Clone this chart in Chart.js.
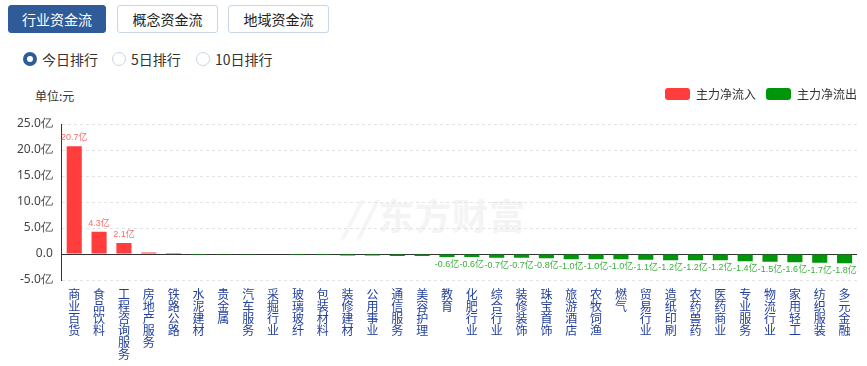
<!DOCTYPE html>
<html>
<head>
<meta charset="utf-8">
<script src="https://cdn.jsdelivr.net/npm/chart.js@4/dist/chart.umd.min.js"></script>
<style>
  body { margin: 0; width: 867px; height: 366px; overflow: hidden; position: relative; background: #fff;
         font-family: "Noto Sans CJK SC", "Noto Sans", sans-serif; color: #333; }
  .tabs { position: absolute; left: 8px; top: 5px; }
  .tab { position: absolute; top: 0; height: 28px; box-sizing: border-box; border: 1px solid #c9d6e6;
         border-radius: 3px; font-size: 14px; line-height: 26px; text-align: center; color: #222; background: #fff; }
  .tab.on { background: #2f5b98; border-color: #2f5b98; color: #fff; }
  .radios { position: absolute; top: 49px; left: 0; font-size: 14px; }
  .radio { position: absolute; top: 0; white-space: nowrap; line-height: 20px; }
  .radio i { position: absolute; top: 3px; left: 0; width: 14px; height: 14px; box-sizing: border-box;
             border: 1px solid #c9d6e6; border-radius: 50%; }
  .radio.on i { border: 4px solid #2f5b98; }
  .radio span { position: absolute; left: 19px; top: 0; }
  .unit { position: absolute; left: 35px; top: 87px; font-size: 12px; color: #333; }
  .wm { position: absolute; left: 378px; top: 188px; font-size: 36px; font-weight: bold; color: #f4f4f4;
        letter-spacing: 1px; }
  .wm-logo { position: absolute; left: 342px; top: 186px; font-size: 40px; font-weight: bold; color: #f5f5f5;
             font-style: italic; }
  #wrap { position: absolute; left: 0; top: 80px; width: 867px; height: 286px; }
</style>
</head>
<body>
<div class="tabs">
  <div class="tab on" style="left:0;width:98px">行业资金流</div>
  <div class="tab" style="left:109px;width:101px">概念资金流</div>
  <div class="tab" style="left:220px;width:101px">地域资金流</div>
</div>
<div class="radios">
  <div class="radio on" style="left:23px"><i></i><span>今日排行</span></div>
  <div class="radio" style="left:112px"><i></i><span>5日排行</span></div>
  <div class="radio" style="left:196px"><i></i><span>10日排行</span></div>
</div>
<div class="wm-logo">//</div>
<div class="wm">东方财富</div>
<div class="unit">单位:元</div>
<div id="wrap"><canvas id="chart" width="867" height="286"></canvas></div>
<script>
const categories = ['商业百货', '食品饮料', '工程咨询服务', '房地产服务', '铁路公路', '水泥建材', '贵金属', '汽车服务',
  '采掘行业', '玻璃玻纤', '包装材料', '装修建材', '公用事业', '通信服务', '美容护理', '教育',
  '化肥行业', '综合行业', '装修装饰', '珠宝首饰', '旅游酒店', '农牧饲渔', '燃气', '贸易行业',
  '造纸印刷', '农药兽药', '医药商业', '专业服务', '物流行业', '家用轻工', '纺织服装', '多元金融'];
// 主力净流入/流出, 亿元
const netFlow = [20.7, 4.3, 2.1, 0.3, 0.02, -0.02, -0.03, -0.05,
  -0.1, -0.2, -0.2, -0.3, -0.3, -0.4, -0.4, -0.6,
  -0.6, -0.7, -0.7, -0.8, -1.0, -1.0, -1.0, -1.1,
  -1.2, -1.2, -1.2, -1.4, -1.5, -1.6, -1.7, -1.8];
const yTicks = [-5, 0, 5, 10, 15, 20, 25];

const RED = '#ff3d3d';
const GREEN = '#00960a';

const inflow = netFlow.map((v) => (v > 0 ? v : null));
const outflow = netFlow.map((v) => (v < 0 ? v : null));

// value labels, only for bars big enough to carry one
const valueLabels = {
  id: 'valueLabels',
  afterDatasetsDraw(chart) {
    const { ctx } = chart;
    ctx.save();
    ctx.font = '9px "Liberation Sans", "Noto Sans CJK SC", sans-serif';
    ctx.textAlign = 'center';
    chart.data.datasets.forEach((ds, di) => {
      chart.getDatasetMeta(di).data.forEach((bar, i) => {
        const v = ds.data[i];
        if (v == null || Math.abs(v) < 0.5) return;
        const text = v.toFixed(1) + '亿';
        if (v > 0) {
          ctx.fillStyle = '#ff6a6a';
          ctx.textBaseline = 'bottom';
          ctx.fillText(text, bar.x, bar.y - 4);
        } else {
          ctx.fillStyle = '#3aae3a';
          ctx.textBaseline = 'top';
          ctx.fillText(text, bar.x, bar.y + 3);
        }
      });
    });
    ctx.restore();
  },
};

// gap between legend and plot, legend nudged to the right edge
const legendGap = {
  id: 'legendGap',
  beforeInit(chart) {
    const fit = chart.legend.fit;
    chart.legend.fit = function () {
      fit.call(this);
      this.height += 12;
    };
  },
  afterLayout(chart) {
    chart.legend.left += 10;
    chart.legend.right += 10;
    chart.legend.top -= 2;
  },
};

chart = new Chart(document.getElementById('chart'), {
  type: 'bar',
  data: {
    labels: categories.map((c) => c.split('')),
    datasets: [
      { label: '主力净流入', data: inflow, backgroundColor: RED },
      { label: '主力净流出', data: outflow, backgroundColor: GREEN },
    ],
  },
  options: {
    responsive: false,
    animation: false,
    layout: { padding: { left: 8, right: 10, top: 0, bottom: 6 } },
    datasets: { bar: { categoryPercentage: 0.8, barPercentage: 0.76 } },
    plugins: {
      tooltip: { enabled: false },
      legend: {
        position: 'top',
        align: 'end',
        labels: {
          boxWidth: 25, boxHeight: 12, useBorderRadius: true, borderRadius: 3,
          color: '#333', font: { size: 12, family: '"Noto Sans CJK SC", sans-serif' }, padding: 10,
        },
      },
    },
    scales: {
      x: {
        stacked: true,
        grid: { display: false },
        border: { display: false },
        ticks: {
          maxRotation: 0, minRotation: 0, autoSkip: false, padding: 0,
          color: '#2340a0', font: { size: 12, family: '"Noto Sans CJK SC", sans-serif', lineHeight: 1 },
        },
      },
      y: {
        stacked: true,
        min: yTicks[0],
        max: yTicks[yTicks.length - 1],
        afterBuildTicks: (scale) => { scale.ticks = yTicks.map((v) => ({ value: v })); },
        grid: {
          drawTicks: false,
          color: (c) => (c.tick && c.tick.value === 0 ? '#333' : '#e3e3e3'),
          lineWidth: 1,
        },
        border: {
          display: true, color: '#333', width: 1,
          dash: (c) => (c.tick && c.tick.value === 0 ? [] : [3, 3]),
        },
        ticks: {
          padding: 9, color: '#444', font: { size: 12, family: '"Noto Sans", sans-serif' },
          callback: (v) => (v === 0 ? '0.0' : v.toFixed(1) + '亿'),
        },
      },
    },
  },
  plugins: [valueLabels, legendGap],
});
</script>
</body>
</html>
